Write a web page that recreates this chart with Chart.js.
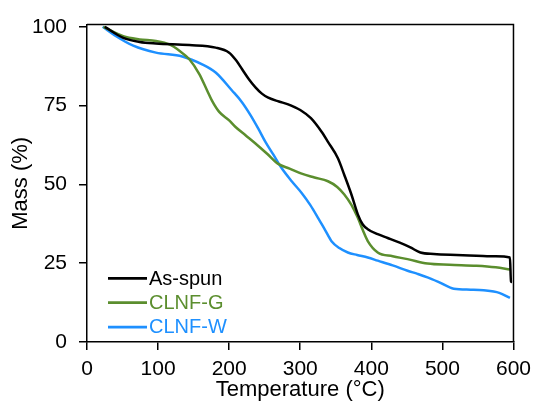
<!DOCTYPE html>
<html>
<head>
<meta charset="utf-8">
<script src="https://cdn.jsdelivr.net/npm/chart.js@4"></script>
<style>
  html, body { margin: 0; padding: 0; background: #fff; }
  canvas { display: block; }
</style>
</head>
<body>
<canvas id="tgaChart" width="538" height="403"></canvas>
<script>
// series (temperature in °C, mass in %)
const asSpunT = [25, 51, 74, 97, 144, 181, 200, 210, 218, 228, 237, 246, 255, 270, 283, 300, 315, 330, 339, 353, 362, 372, 381, 388, 395, 409, 423, 440, 455, 469, 488, 520, 548, 575, 595, 596.5, 598];
const asSpunM = [100, 96.5, 95.2, 94.7, 94.2, 93.4, 91.8, 89.3, 86.6, 83.3, 80.8, 78.8, 77.5, 76.3, 75.4, 73.6, 71, 66.7, 63.5, 58.3, 53, 46.8, 40.5, 37.3, 35.8, 34.2, 33, 31.5, 30, 28.4, 27.9, 27.6, 27.4, 27.2, 26.8, 19.2, 19];

const clnfGT = [23, 51, 74, 97, 116, 130, 144, 158, 169, 176, 186, 200, 209, 223, 237, 253, 269, 285, 302, 320, 339, 352, 362, 372, 381, 388, 395, 409, 430, 451, 479, 510, 548, 575, 595];
const clnfGM = [100, 97, 96, 95.5, 94.4, 92.4, 89.7, 85, 79.8, 76.5, 73, 70.3, 68.2, 65.6, 63, 59.8, 56.5, 55, 53.4, 52.2, 51, 49.2, 46.8, 43.5, 39.4, 35.5, 32, 28.4, 27.2, 26.3, 24.9, 24.5, 24.2, 23.7, 23];

const clnfWT = [22, 41, 65, 97, 134, 162, 181, 204, 218, 230, 241, 251, 262, 274, 288, 302, 314, 325, 335, 344, 355, 367, 380, 395, 409, 430, 451, 465, 479, 495, 516, 540, 558, 580, 595];
const clnfWM = [100, 97, 94, 91.8, 90.6, 88.1, 85.5, 79.8, 76.1, 72, 67.7, 63.5, 59.5, 55.1, 51, 47.3, 43.5, 39.4, 35.5, 32, 29.8, 28.4, 27.6, 26.8, 25.8, 24.3, 22.6, 21.6, 20.5, 19, 16.9, 16.6, 16.4, 15.6, 14];

const seriesLabels = ['As-spun', 'CLNF-G', 'CLNF-W'];
const seriesColors = ['#000000', '#5B8E2E', '#1E90FF'];
const xTicks = [0, 100, 200, 300, 400, 500, 600];
const yTicks = [0, 25, 50, 75, 100];

const FONT = '"Liberation Sans", Arial, sans-serif';

const toPoints = (xs, ys) => xs.map((x, i) => ({x: x, y: ys[i]}));

// top/right frame plus the in-plot legend with coloured text
const frameAndLegend = {
    id: 'frameAndLegend',
    afterDatasetsDraw(chart) {
        const {ctx, chartArea: a} = chart;
        ctx.save();
        ctx.strokeStyle = '#000';
        ctx.lineWidth = 1.5;
        ctx.beginPath();
        ctx.moveTo(a.left, a.top);
        ctx.lineTo(a.right, a.top);
        ctx.lineTo(a.right, a.bottom);
        ctx.stroke();

        ctx.font = '20px ' + FONT;
        ctx.textBaseline = 'middle';
        ctx.textAlign = 'left';
        chart.data.datasets.forEach((ds, i) => {
            const y = a.bottom - 63.7 + i * 24.4;
            ctx.strokeStyle = ds.borderColor;
            ctx.lineWidth = 2.7;
            ctx.beginPath();
            ctx.moveTo(a.left + 21, y);
            ctx.lineTo(a.left + 60, y);
            ctx.stroke();
            ctx.fillStyle = ds.borderColor;
            ctx.fillText(ds.label, a.left + 62, y + 0.8);
        });
        ctx.restore();
    }
};

const ctx = document.getElementById('tgaChart').getContext('2d');
new Chart(ctx, {
    type: 'line',
    data: {
        datasets: [
            {label: seriesLabels[0], data: toPoints(asSpunT, asSpunM), borderColor: seriesColors[0]},
            {label: seriesLabels[1], data: toPoints(clnfGT, clnfGM), borderColor: seriesColors[1]},
            {label: seriesLabels[2], data: toPoints(clnfWT, clnfWM), borderColor: seriesColors[2]}
        ].map(ds => Object.assign(ds, {
            borderWidth: 2.5,
            pointRadius: 0,
            fill: false,
            tension: 0.4,
            cubicInterpolationMode: 'monotone'
        }))
    },
    plugins: [frameAndLegend],
    options: {
        responsive: false,
        animation: false,
        devicePixelRatio: 1,
        layout: {
            padding: {left: 0, right: 21, top: 22, bottom: 0}
        },
        plugins: {
            legend: {display: false},
            tooltip: {enabled: false}
        },
        scales: {
            x: {
                type: 'linear',
                min: 0,
                max: 600,
                afterBuildTicks: scale => { scale.ticks = xTicks.map(v => ({value: v})); },
                afterFit: scale => { scale.height = 61; },
                border: {display: true, color: '#000', width: 1.5},
                grid: {drawOnChartArea: false, drawTicks: true, tickLength: 8, color: '#000', lineWidth: 1.5},
                ticks: {color: '#000', padding: 7, maxRotation: 0, font: {family: FONT, size: 21}},
                title: {display: true, text: 'Temperature (°C)', color: '#000', padding: {top: 0, bottom: 0}, font: {family: FONT, size: 22}}
            },
            y: {
                type: 'linear',
                min: 0,
                max: 100.7,
                afterBuildTicks: scale => { scale.ticks = yTicks.map(v => ({value: v})); },
                afterFit: scale => { scale.width = 87; },
                border: {display: true, color: '#000', width: 1.5},
                grid: {drawOnChartArea: false, drawTicks: true, tickLength: 8, color: '#000', lineWidth: 1.5},
                ticks: {color: '#000', padding: 12, font: {family: FONT, size: 21}},
                title: {display: true, text: 'Mass (%)', color: '#000', padding: {top: 8, bottom: 0}, font: {family: FONT, size: 22}}
            }
        }
    }
});
</script>
</body>
</html>
